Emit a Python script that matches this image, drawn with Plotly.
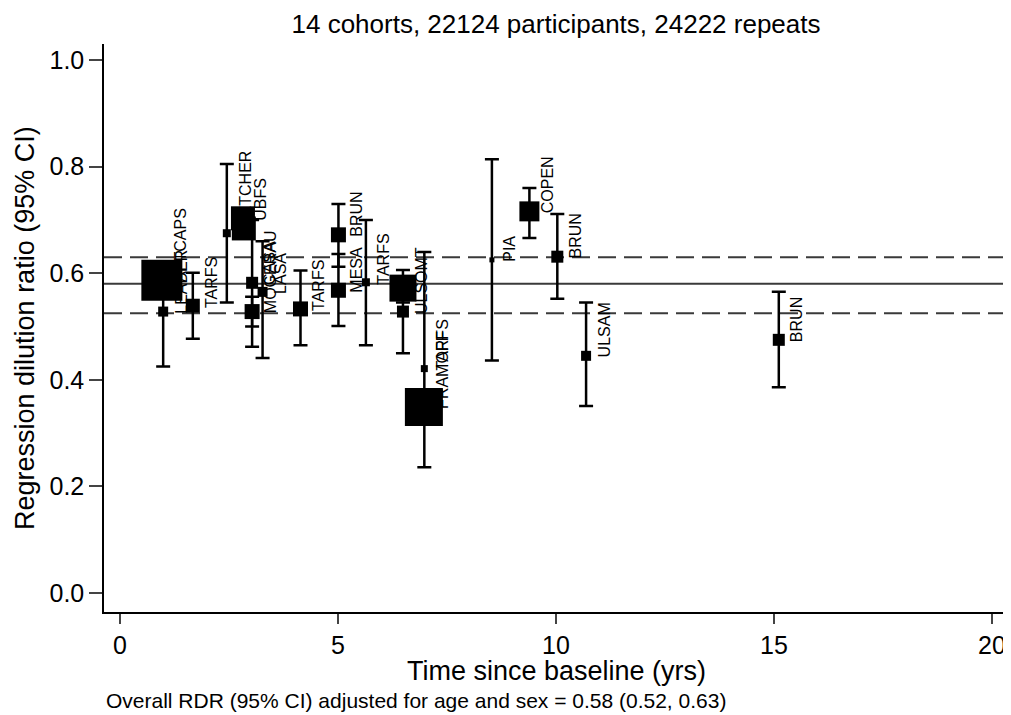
import plotly.graph_objects as go

# ---- data ----
labels = ["LEADER", "AFTCAPS", "TARFS", "FLETCHER", "UBFS", "", "CASA", "MOGERAU",
          "LASA", "TARFS", "BRUN", "MESA", "TARFS", "", "ULSOMT", "TARFS", "FRAMOFF",
          "PIA", "COPEN", "BRUN", "ULSAM", "BRUN"]
years = [0.99, 0.96, 1.67, 2.45, 2.82, 2.84, 3.03, 3.03,
         3.27, 4.14, 5.01, 5.01, 5.64, 6.49, 6.49, 6.98, 6.97,
         8.53, 9.39, 10.03, 10.69, 15.11]
rdr = [0.528, 0.587, 0.539, 0.675, 0.703, 0.684, 0.582, 0.528,
       0.565, 0.533, 0.672, 0.568, 0.583, 0.572, 0.528, 0.421, 0.349,
       0.625, 0.716, 0.631, 0.445, 0.475]
ci_lo = [0.425, 0.575, 0.477, 0.545, 0.690, 0.670, 0.462, 0.500,
         0.441, 0.465, 0.612, 0.501, 0.465, 0.545, 0.450, 0.236, 0.335,
         0.436, 0.666, 0.552, 0.351, 0.386]
ci_hi = [0.620, 0.600, 0.601, 0.805, 0.715, 0.698, 0.700, 0.556,
         0.660, 0.605, 0.730, 0.636, 0.700, 0.606, 0.580, 0.640, 0.365,
         0.814, 0.760, 0.711, 0.545, 0.565]
weight_px = [10, 41, 14, 8, 24, 24, 12, 15,
             10, 15, 15, 15, 8, 27, 12, 7, 38,
             5, 20, 12, 10, 12]

overall = 0.58
overall_lo = 0.525
overall_hi = 0.63

title_text = "14 cohorts, 22124 participants, 24222 repeats"
x_title = "Time since baseline (yrs)"
y_title = "Regression dilution ratio (95% CI)"
footnote = "Overall RDR (95% CI) adjusted for age and sex = 0.58 (0.52, 0.63)"
x_ticks = [0, 5, 10, 15, 20]
y_ticks = [0.0, 0.2, 0.4, 0.6, 0.8, 1.0]

FONT = "Liberation Sans, Arial, sans-serif"

# the page body adds an 8px offset; the figure is sized to end at the window edge
W, H = 1003, 707

fig = go.Figure()

# confidence intervals (drawn first, under the squares)
fig.add_trace(go.Scatter(
    x=years, y=rdr, mode="markers",
    marker=dict(size=1, color="rgba(0,0,0,0)", opacity=1),
    error_y=dict(type="data", symmetric=False,
                 array=[h - v for h, v in zip(ci_hi, rdr)],
                 arrayminus=[v - l for v, l in zip(rdr, ci_lo)],
                 color="black", thickness=2.5, width=7),
    showlegend=False, hoverinfo="skip",
))

# weighted squares
fig.add_trace(go.Scatter(
    x=years, y=rdr, mode="markers",
    marker=dict(symbol="square", size=weight_px, color="black", opacity=1,
                line=dict(width=0)),
    showlegend=False, hoverinfo="skip",
))

# reference lines (overall RDR and CI)
for val, dash in [(overall, "solid"), (overall_lo, "18px,8px"), (overall_hi, "18px,8px")]:
    fig.add_shape(type="line", xref="paper", yref="y", x0=0, x1=1, y0=val, y1=val,
                  line=dict(color="#3a3a3a", width=2, dash=dash), layer="below")

# marker labels
for lab, xv, yv in zip(labels, years, rdr):
    if not lab:
        continue
    fig.add_annotation(x=xv, y=yv, xref="x", yref="y", text=lab, showarrow=False,
                       textangle=-90, xanchor="center", yanchor="bottom",
                       xshift=18, yshift=-3, borderpad=0,
                       font=dict(family=FONT, size=16, color="black"))

# axis titles & footnote as annotations
fig.add_annotation(xref="paper", yref="paper", x=0.5, y=0, yanchor="middle",
                   yshift=-59, text=x_title, showarrow=False,
                   font=dict(family=FONT, size=27, color="black"))
fig.add_annotation(xref="paper", yref="paper", x=0, y=0.5, xanchor="center",
                   xshift=-79, text=y_title, textangle=-90, showarrow=False,
                   font=dict(family=FONT, size=27, color="black"))
fig.add_annotation(xref="paper", yref="paper", x=0, y=0, xanchor="left",
                   yanchor="middle", xshift=0, yshift=-88, text=footnote,
                   showarrow=False, font=dict(family=FONT, size=21, color="black"))

fig.update_layout(
    width=W, height=H,
    margin=dict(l=96, r=3, t=36, b=103),
    paper_bgcolor="white", plot_bgcolor="white",
    title=dict(text=title_text, x=0.5, xref="paper", xanchor="center",
               y=1 - 16 / H, yref="container", yanchor="middle",
               font=dict(family=FONT, size=26, color="black")),
    font=dict(family=FONT, color="black"),
    xaxis=dict(range=[-0.367, 20.367], tickvals=x_ticks, ticktext=[str(t) for t in x_ticks],
               showgrid=False, zeroline=False, showline=True, linecolor="black",
               linewidth=1.5, ticks="outside", ticklen=10, tickwidth=1.5,
               tickcolor="#444", tickfont=dict(size=25, family=FONT)),
    yaxis=dict(range=[-0.0356, 1.030], tickvals=y_ticks,
               ticktext=[f"{t:.1f}" for t in y_ticks],
               showgrid=False, zeroline=False, showline=True, linecolor="black",
               linewidth=1.5, ticks="outside", ticklen=13, tickwidth=1.5,
               tickcolor="#444", tickfont=dict(size=25, family=FONT)),
)

fig.write_html("out.html")
